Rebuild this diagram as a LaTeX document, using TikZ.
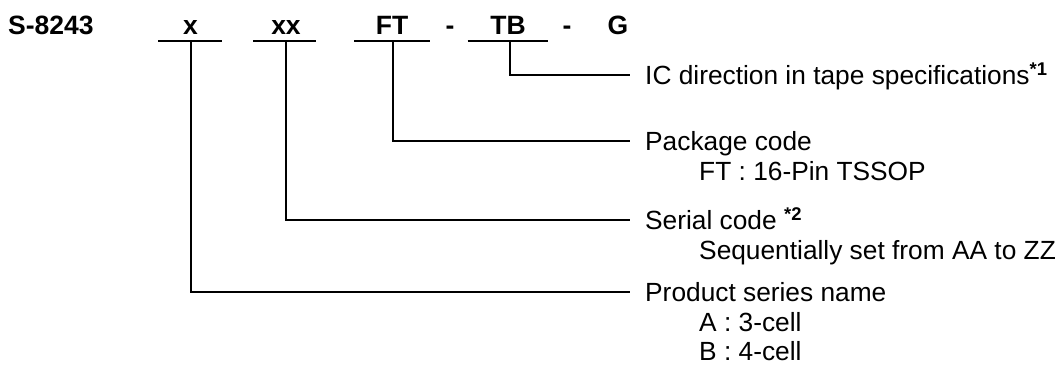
\documentclass[tikz,border=0pt]{standalone}
\usepackage{fontspec}
\setmainfont{Liberation Sans}
\begin{document}
\begin{tikzpicture}[x=1pt,y=-1pt,
  code/.style={inner sep=0pt,anchor=base,font=\fontsize{26.5}{30}\selectfont\bfseries},
  lbl/.style={inner sep=0pt,anchor=base west,font=\fontsize{26.3}{30}\selectfont},
  ln/.style={line width=2pt},
  conn/.style={line width=2pt}]
\useasboundingbox (0,0) rectangle (1063,376);
% top row
\node[code,anchor=base west] (s) at (8,34) {S-8243};
\node[code] (cx) at (190.5,34) {x};
\node[code] (cxx) at (286,34) {xx};
\node[code] (cft) at (392,34) {FT};
\node[code] (d1) at (450,34) {-};
\node[code] (ctb) at (508,34) {TB};
\node[code] (d2) at (567,34) {-};
\node[code] (cg) at (618,34) {G};
% underlines
\coordinate (ux) at (190.5,41);
\coordinate (uxx) at (286,41);
\coordinate (uft) at (393,41);
\coordinate (utb) at (510,41);
\draw[ln] (158,41) -- (222,41);
\draw[ln] (253,41) -- (316,41);
\draw[ln] (354,41) -- (430,41);
\draw[ln] (467.5,41) -- (548,41);
% line ends
\coordinate (eic) at (630,75);
\coordinate (epk) at (630,141);
\coordinate (esr) at (630,220);
\coordinate (epr) at (630,292);
% labels
\node[lbl] (tic) at (645,84.5) {IC direction in tape specifications\textsuperscript{\bfseries *1}};
\node[lbl] (tpk) at (645,150.5) {Package code};
\node[lbl] (tpk2) at (699,180.5) {FT : 16-Pin TSSOP};
\node[lbl] (tsr) at (645,229.5) {Serial code \textsuperscript{\bfseries *2}};
\node[lbl] (tsr2) at (699,259.5) {Sequentially set from AA to ZZ};
\node[lbl] (tpr) at (645,301.5) {Product series name};
\node[lbl] (tpr2) at (699,331) {A : 3-cell};
\node[lbl] (tpr3) at (699,360) {B : 4-cell};
% connectors
\draw[conn] (utb) |- (eic);
\draw[conn] (uft) |- (epk);
\draw[conn] (uxx) |- (esr);
\draw[conn] (ux) |- (epr);
\end{tikzpicture}
\end{document}
